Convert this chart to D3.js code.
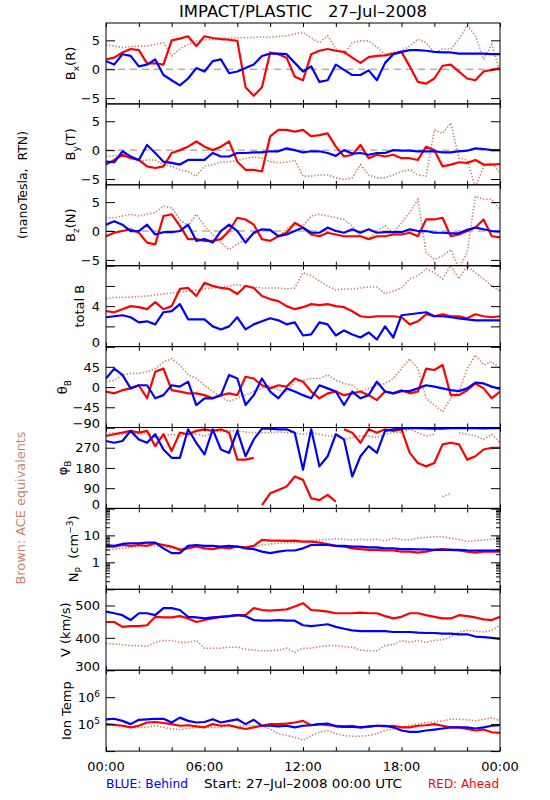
<!DOCTYPE html>
<html><head><meta charset="utf-8">
<script src="https://cdn.jsdelivr.net/npm/d3@7"></script>
<style>body{margin:0;background:#fff}svg{display:block}text{font-family:"DejaVu Sans",sans-serif;white-space:pre}</style>
</head><body><svg id="c" width="550" height="800"></svg>
<script>
// ---- sampling times (hours after 27-Jul-2008 00:00 UTC) ----
const hours=[0,0.5,1,1.5,2,2.5,3,3.5,4,4.5,5,5.5,6,6.5,7,7.5,8,8.5,9,9.5,10,10.5,11,11.5,12,12.5,13,13.5,14,14.5,15,15.5,16,16.5,17,17.5,18,18.5,19,19.5,20,20.5,21,21.5,22,22.5,23,23.5,24];
const timeTicks=[0,2,4,6,8,10,12,14,16,18,20,22,24];
const timeLabelHours=[0,6,12,18,24];
const timeLabels=["00:00","06:00","12:00","18:00","00:00"];

// ---- Bx (R) ----
const bxRed=[1.7,2,2.9,3.5,3.3,1,1,0.8,5,5.3,5.7,4,5.7,5.4,5.2,5.1,4.9,-3.1,-4.6,-3.1,2.9,2.6,2,-1.3,-1.9,2.6,3.2,3.5,3.2,3,2,1.1,2.1,2.3,2.4,2.7,3,0.5,-2.2,-2.5,-1.6,0.6,0.8,-0.4,-1.6,-1.9,-0.4,-0.1,0.2];
const bxBlue=[1.4,0.8,2.6,2.3,0.5,0.8,1.7,-1,-1.9,-2.8,-1.6,0.2,-0.4,1.4,1.7,-0.7,-0.4,0.2,0.8,2.3,2.7,2.7,2.6,1.1,-0.4,0.5,-2.2,-1.9,0.8,-0.1,-1,-1,-0.2,-1.9,1.1,2.6,3,3.3,3.3,3.2,3,2.9,2.9,2.7,2.7,2.7,2.7,2.6,2.6];
const bxBrown=[4.2,4,3.75,3.9,4,4,4.3,4.6,2.3,3.5,4.3,4.9,5.1,5.2,5.4,5.4,5.4,5.5,5.5,5.6,5.5,5.7,5.8,6.1,6.4,5.4,4.6,5.8,3.5,2.6,4.6,4.9,4.9,3.8,2.6,2.9,3.2,4,5.2,4.6,2.9,3.5,3.5,5.2,7.6,5.8,1.7,4.3,-0.4];
// ---- By (T) ----
const byRed=[-2.5,-1.7,-0.8,-1.4,-1.7,-2.8,-3.1,-2.8,-0.5,0,0.6,1.5,0.6,0,0.6,1.5,-2,-3.4,-3.4,-3.7,2.4,3.5,3.5,3.2,3.5,2.4,2.6,2.9,0.6,-1.1,-0.8,0.9,-1.4,-0.8,-1.1,-0.8,-1.4,-1.4,-1.7,0.6,0,-2.8,-2.5,-2.1,-2.2,-1.7,-2.5,-2.5,-2.4];
const byBlue=[-2,-2.1,-0.2,-1.1,-1.7,0.9,-0.5,-2,-2.2,-2.5,-1.7,-1.7,-1.7,-0.5,-1.1,-1.1,-0.5,-0.5,-0.4,-0.4,-0.2,-0.2,0.3,0,-0.4,-0.2,-0.2,-0.5,-1,0,-0.6,-0.5,-0.8,-0.5,-0.5,0,-0.1,-0.1,-0.2,-0.2,-0.2,-0.4,-0.4,-0.2,-0.1,0.3,0.2,0,0];
const byBrown=[-1.1,-1,-0.8,-1.1,-2,-1.7,-1.7,-2.5,-2.8,-3.4,-3.7,-4.5,-2.8,-2.5,-2.1,-2,-1.8,-1.4,-1.2,-1.4,-2,-2.2,-2.1,-1.7,-4.5,-4.5,-4.3,-4.3,-4.8,-5.1,-4.8,-2.5,-4.3,-4.8,-4.8,-4.3,-3.7,-3.4,-4.3,-4.5,3.5,2.9,4.7,-1.4,-1.7,-6.5,-2.8,-2.2,-4];
// ---- Bz (N) ----
const bzRed=[-0.9,-0.3,0,0.3,-0.3,-2,-2.3,2.6,2.9,0.9,-1.4,-1.4,-1.7,-1.7,-1.4,0,2.3,2,1.1,-1.4,-1.7,-0.9,-0.3,1.4,0.6,-0.6,-0.9,-0.3,-0.6,-0.9,-0.9,-0.9,-1.4,-0.9,-0.9,-0.6,-0.6,-0.3,-0.9,2,2,2.3,-0.9,-0.6,0,0.6,2,-0.9,-1.1];
const bzBlue=[1.1,1.7,1.1,0,0,1.1,-0.6,-0.2,-0.2,0,1.1,-1.7,-1.4,-2,0,1.1,0,-2,-0.3,0.3,0.2,-0.9,-0.6,0,0.6,-0.3,-0.3,0.6,0,-0.3,0.3,-0.3,0.3,-0.3,-0.2,-0.2,-0.2,0.3,0,0,-0.3,-0.3,-0.4,-0.4,0.2,0.6,0.3,0,-0.1];
const bzBrown=[2.3,2.3,2.6,2.9,2.6,2.9,3.2,4.3,4,2,0.9,2.9,0.9,-0.6,-2,-3.2,-2.3,-1.4,-0.6,0.3,0,-0.9,0.3,1.4,0.9,2.6,2.9,2.6,2.3,2,0.9,-0.9,-1.4,0,0.9,-0.3,1.4,3.2,5.5,-3.7,-4.9,-4.3,-3.2,-6.5,-3.7,6,5.5,5.5,3.7];
// ---- total B ----
const btRed=[3.5,3.4,3.7,4,3.9,3.7,4.4,3.7,4,5.7,5.8,5,6.3,6,5.8,5.7,5.2,6,5.8,5,4.7,4.5,4,3.7,3.9,4.2,4.1,4.2,4,3.9,3.5,3,2.9,3,3,3,2.9,2.2,2.5,3.2,3,3.2,3,3,2.8,3.2,3,2.9,3];
const btBlue=[2.9,3,3.1,2.9,2.4,2.5,2.2,3.4,3.5,4.2,2.7,2.7,2.7,2,1.7,2,2.9,1.7,2.2,2.5,2.8,2.6,2.2,2.4,1.1,1.2,2.4,2.2,1.1,1.6,1.2,0.9,1.4,0.7,2,0.9,3.1,3.2,3.3,3.4,3,3,2.9,2.8,2.7,2.6,2.6,2.6,2.6];
const btBrown=[4.75,4.85,4.85,4.9,4.95,5,5.1,5.2,5.3,5.4,5.5,5.6,5.7,5.8,5.9,6,6.1,6,5.9,5.8,5.8,5.8,5.7,5.8,7.3,7,6.5,6,5.6,5.7,5.7,5.8,5.9,5.9,5.2,5.5,5.8,6.7,7,7.7,7.3,6.7,8,6.7,8,7.3,6.7,6,5.5];
// ---- theta B ----
const thRed=[-10,-14,-7,-3,4,-25,34,41,-7,-10,-14,-14,-18,-25,-18,-14,-18,23,19,4,-3,4,1,19,12,-10,-25,-14,-10,-18,-14,-10,-18,-29,-10,-14,-7,-14,-10,41,38,49,-18,-18,-7,8,-3,-25,-10];
const thBlue=[19,41,27,-3,4,4,-25,-18,4,1,12,-40,-25,-25,-18,27,19,-40,-18,19,-10,-25,-3,-10,-18,-25,4,-3,-10,-40,-10,-25,-18,12,-10,-14,-9,-9,-3,4,1,-3,-7,-9,-3,10,8,1,-4];
const thBrown=[12,15,27,30,30,34,41,56,63,49,27,19,4,-10,-21,-32,-25,-18,-10,-3,4,-7,-10,12,15,19,19,27,15,8,4,-10,-3,4,8,19,41,63,41,-25,-40,-55,-25,-10,41,71,49,56,41];
// ---- phi B ----
const phRed=[322,330,337,345,337,345,277,330,255,337,330,345,352,345,352,337,217,217,225,15,67,82,97,142,127,45,37,60,30,352,337,292,352,337,352,345,352,247,202,187,202,285,292,285,217,232,262,270,270];
const phBlue=[300,292,300,345,307,292,330,262,225,225,352,292,240,352,262,247,345,232,307,355,355,352,352,337,172,352,187,232,330,307,142,232,277,247,345,352,355,357,357,356,355,355,357,357,357,357,356,357,357];
const phBrown=[330,337,330,337,330,337,315,322,330,322,337,330,322,337,345,345,345,340,337,337,337,340,337,337,330,337,330,322,322,307,315,322,322,315,330,337,337,352,337,322,330,52,67,337,330,322,307,330,292];
// ---- Np (cm^-3) ----
const npRed=[3.85,3.85,4.4,4.1,4.4,4.1,5.1,4.4,3.85,2.9,3.3,3.85,3.3,3.1,3.6,3.3,3.85,3.6,4.1,6.75,6.4,6.4,6.2,6.4,5.9,5.9,5.4,4.8,4.1,3.85,3.3,3.1,2.9,2.9,2.75,2.75,2.5,2.5,2.3,2.5,2.9,3.1,2.9,2.75,2.5,2.3,2.5,2.5,2.5];
const npBlue=[4.4,4.1,4.8,5.1,5.1,5.4,5.4,3.3,2.2,2.2,4.1,4.4,4.1,4.1,3.85,4.1,3.85,3.3,3.1,2.5,2.2,2.5,2.75,2.75,3.3,4.4,4.4,4.4,4.1,4.1,3.85,3.85,3.6,3.6,3.3,3.3,3.1,3.1,3.0,3.0,2.9,2.9,2.9,2.9,2.8,2.75,2.75,2.75,2.75];
const npBrown=[2.9,3.1,3.3,3.6,3.85,4.1,4.1,3.85,3.3,3.3,3.3,3.85,4.1,3.85,3.6,3.85,3.85,3.3,3.6,4.4,4.8,5.1,5.4,5.4,5.9,6.4,6.75,7.1,7.5,7.1,6.75,7.1,6.75,7.1,6.4,7.8,7.1,6.75,7.8,8.4,8.9,8.9,7.8,7.1,5.9,6.4,6.75,7.1,7.8];
// ---- V (km/s) ----
const vRed=[449,449,434,436,436,439,465,463,463,467,460,449,455,460,465,467,470,470,492,486,484,486,488,497,507,486,484,481,476,476,476,478,476,476,467,460,465,476,476,470,465,460,460,470,467,463,457,455,465];
const vBlue=[481,476,470,455,476,476,470,492,492,486,465,463,460,463,465,467,470,467,455,453,453,455,453,453,439,436,439,442,434,428,423,421,421,421,421,418,418,418,416,415,415,413,413,411,411,404,402,400,397];
const vBrown=[383,381,379,376,376,373,386,392,392,386,386,392,368,368,368,371,371,365,362,360,360,362,368,355,368,368,373,376,376,373,371,362,360,360,376,379,392,386,392,386,392,394,402,418,423,421,418,423,439];
// ---- Ion Temp (K) ----
const tRed=[1.00e5,0.95e5,0.87e5,0.76e5,0.87e5,1.15e5,1.2e5,1.1e5,1.0e5,0.87e5,0.91e5,0.83e5,0.76e5,1.0e5,0.87e5,0.91e5,0.76e5,0.66e5,0.76e5,0.87e5,1.0e5,1.0e5,1.05e5,1.15e5,1.32e5,0.91e5,1.0e5,0.91e5,0.87e5,0.83e5,0.87e5,0.76e5,0.79e5,0.87e5,0.83e5,0.87e5,0.76e5,0.76e5,0.87e5,0.91e5,1.0e5,0.87e5,0.76e5,0.76e5,0.66e5,0.58e5,0.63e5,0.5e5,0.47e5];
const tBlue=[1.51e5,1.58e5,1.32e5,1.0e5,1.45e5,1.51e5,1.58e5,1.58e5,1.15e5,1.74e5,1.32e5,1.15e5,1.2e5,1.51e5,1.15e5,1.32e5,1.51e5,1.0e5,1.45e5,0.87e5,0.87e5,0.83e5,0.87e5,0.76e5,0.87e5,0.91e5,1.0e5,1.05e5,0.83e5,0.79e5,0.79e5,0.76e5,0.83e5,0.87e5,0.87e5,0.76e5,0.58e5,0.52e5,0.52e5,0.58e5,0.63e5,0.69e5,0.76e5,0.76e5,0.76e5,0.69e5,0.76e5,0.87e5,0.91e5];
const tBrown=[0.87e5,0.87e5,0.83e5,0.76e5,0.76e5,0.76e5,0.87e5,0.76e5,0.66e5,0.63e5,0.69e5,0.76e5,0.76e5,0.76e5,0.76e5,0.87e5,0.83e5,0.87e5,0.87e5,0.87e5,0.66e5,0.44e5,0.38e5,0.33e5,0.25e5,0.38e5,0.5e5,0.58e5,0.44e5,0.38e5,0.355e5,0.355e5,0.38e5,0.44e5,0.58e5,0.66e5,0.76e5,0.91e5,1.0e5,1.15e5,1.2e5,1.32e5,1.51e5,1.51e5,1.45e5,1.32e5,1.51e5,1.74e5,1.32e5];

// ---- tick values / labels ----
const bTicks=[-5,0,5], bLabels=[5,0,-5];
const totTicks=[0,2,4,6,8], totLabels=[4,0];
const thTicks=[-90,-45,0,45,90], thLabels=[45,0,-45,-90];
const phTicks=[0,90,180,270,360], phLabels=[270,180,90,0];
const npTicks=[0.1,1,10,100], npMinor=[0.2,0.3,0.4,0.5,0.6,0.7,0.8,0.9,2,3,4,5,6,7,8,9,20,30,40,50,60,70,80,90], npLabels=[10,1];
const vTicks=[300,400,500], vLabels=[500,400,300];
const tTicks=[1e4,1e5,1e6,1e7], tLabels=[1e6,1e5];

const COL={red:"#ff0000",blue:"#0000ff",brown:"#c8856a"};
const svg=d3.select("#c");
const L=106,R=500,T0=23,PH=80.9;
const x=d3.scaleLinear().domain([0,24]).range([L,R]);

const fmt=v=>String(v).replace("-","\u2212");
const supFmt=v=>["10",String(Math.round(Math.log10(v)))];

const panels=[
 {red:bxRed,blue:bxBlue,brown:bxBrown,domain:[-6,8],ticks:bTicks,labels:bLabels,zero:true,tx:75,title:[["B",0],["x",1],["(R)",0]]},
 {red:byRed,blue:byBlue,brown:byBrown,domain:[-6,8],ticks:bTicks,labels:bLabels,zero:true,tx:75,title:[["B",0],["y",1],["(T)",0]]},
 {red:bzRed,blue:bzBlue,brown:bzBrown,domain:[-6,8],ticks:bTicks,labels:bLabels,zero:true,tx:75,title:[["B",0],["z",1],["(N)",0]]},
 {red:btRed,blue:btBlue,brown:btBrown,domain:[0,8],ticks:totTicks,labels:totLabels,tx:84,title:[["total B",0]]},
 {red:thRed,blue:thBlue,brown:thBrown,domain:[-90,90],ticks:thTicks,labels:thLabels,tx:67,title:[["\u03b8",0],["B",1]]},
 {red:phRed,blue:phBlue,brown:phBrown,domain:[0,360],ticks:phTicks,labels:phLabels,tx:67,wrap:180,title:[["\u03c6",0],["B",1]]},
 {red:npRed,blue:npBlue,brown:npBrown,domain:[0.1,100],log:true,ticks:npTicks,minor:npMinor,labels:npLabels,tx:78,title:[["N",0],["P",1],["  (cm",0],["\u22123",-1],[")",0]]},
 {red:vRed,blue:vBlue,brown:vBrown,domain:[300,550],ticks:vTicks,labels:vLabels,tx:70,title:[["V (km/s)",0]]},
 {red:tRed,blue:tBlue,brown:tBrown,domain:[1e4,1e7],log:true,ticks:tTicks,labels:tLabels,sup:true,tx:71,title:[["Ion Temp",0]]}
];

function segs(vals,thr){
  const out=[];let cur=[];
  vals.forEach((v,i)=>{
    if(i>0&&Math.abs(v-vals[i-1])>thr){out.push(cur);cur=[];}
    cur.push([hours[i],v]);
  });
  out.push(cur);return out;
}

const defs=svg.append("defs");
panels.forEach((p,i)=>{
  const y0=T0+i*PH, y1=y0+PH;
  const y=(p.log?d3.scaleLog():d3.scaleLinear()).domain(p.domain).range([y1,y0]);
  const g=svg.append("g");
  defs.append("clipPath").attr("id","cp"+i).append("rect")
    .attr("x",L).attr("y",y0).attr("width",R-L).attr("height",PH);
  const dg=g.append("g").attr("clip-path","url(#cp"+i+")");
  if(p.zero){
    dg.append("line").attr("x1",L).attr("x2",R).attr("y1",y(0)).attr("y2",y(0))
      .attr("stroke","#8c8c8c").attr("stroke-width",1).attr("stroke-dasharray","7,5");
  }
  const line=d3.line().x(d=>x(d[0])).y(d=>y(d[1]));
  const thr=p.wrap||Infinity;
  segs(p.brown,thr).forEach(s=>{
    dg.append("path").attr("d",line(s)).attr("fill","none").attr("stroke",COL.brown)
      .attr("stroke-width",1.6).attr("stroke-dasharray","1.4,1.8");
  });
  ["red","blue"].forEach(c=>{
    segs(p[c],thr).forEach(s=>{
      dg.append("path").attr("d",line(s)).attr("fill","none").attr("stroke",COL[c])
        .attr("stroke-width",2.2).attr("stroke-linejoin","round");
    });
  });
  // frame
  g.append("rect").attr("x",L).attr("y",y0).attr("width",R-L).attr("height",PH)
    .attr("fill","none").attr("stroke","#000").attr("stroke-width",1);
  // x ticks (inward)
  g.append("g").attr("transform",`translate(0,${y0})`).call(d3.axisTop(x).tickValues(timeTicks).tickSize(-4).tickFormat(""));
  g.append("g").attr("transform",`translate(0,${y1})`).call(d3.axisBottom(x).tickValues(timeTicks).tickSize(-4).tickFormat(""));
  // y ticks (inward) left and right
  g.append("g").attr("transform",`translate(${L},0)`).call(d3.axisLeft(y).tickValues(p.ticks).tickSize(-9).tickFormat(""));
  g.append("g").attr("transform",`translate(${R},0)`).call(d3.axisRight(y).tickValues(p.ticks).tickSize(-9).tickFormat(""));
  if(p.minor){
    g.append("g").attr("transform",`translate(${L},0)`).call(d3.axisLeft(y).tickValues(p.minor).tickSize(-4).tickFormat(""));
    g.append("g").attr("transform",`translate(${R},0)`).call(d3.axisRight(y).tickValues(p.minor).tickSize(-4).tickFormat(""));
  }
  g.selectAll(".domain").remove();
  g.selectAll(".tick line").attr("stroke","#000");
  // tick labels
  p.labels.forEach(v=>{
    const yy=Math.min(y(v),y1-4);
    const t=svg.append("text").attr("x",100).attr("y",yy).attr("dy","0.36em")
      .attr("text-anchor","end").attr("font-size",13).attr("fill","#000");
    if(p.sup){
      const [b,e]=supFmt(v);
      t.append("tspan").text(b);
      t.append("tspan").attr("dy",-5).attr("font-size",9).text(e);
    } else t.text(fmt(v));
  });
  // axis title
  const tt=svg.append("text").attr("transform",`translate(${p.tx},${(y0+y1)/2}) rotate(-90)`)
    .attr("text-anchor","middle").attr("font-size",13).attr("fill","#000");
  let shift=0;
  p.title.forEach(([s,k])=>{
    const sp=tt.append("tspan").text(s);
    const target=k===1?4:(k===-1?-5:0);
    if(target!==shift){sp.attr("dy",target-shift);shift=target;}
    if(k!==0) sp.attr("font-size",9);
  });
});

// bottom time labels
const yb=T0+9*PH;
timeLabelHours.forEach((h,i)=>{
  svg.append("text").attr("x",x(h)).attr("y",yb+20).attr("text-anchor","middle")
    .attr("font-size",13).text(timeLabels[i]);
});
// title
svg.append("text").attr("x",(L+R)/2).attr("y",17).attr("text-anchor","middle")
  .attr("font-size",16.5).attr("textLength",248).attr("lengthAdjust","spacingAndGlyphs")
  .text("IMPACT/PLASTIC   27\u2013Jul\u20132008");
// footer
svg.append("text").attr("x",L).attr("y",788).attr("font-size",13).attr("fill",COL.blue)
  .attr("textLength",82).attr("lengthAdjust","spacingAndGlyphs").text("BLUE: Behind");
svg.append("text").attr("x",303).attr("y",788).attr("text-anchor","middle").attr("font-size",13)
  .attr("textLength",198).attr("lengthAdjust","spacingAndGlyphs").text("Start: 27\u2013Jul\u20132008 00:00 UTC");
svg.append("text").attr("x",499).attr("y",788).attr("text-anchor","end").attr("font-size",13).attr("fill",COL.red)
  .attr("textLength",71).attr("lengthAdjust","spacingAndGlyphs").text("RED: Ahead");
// side labels
svg.append("text").attr("transform","translate(27,185) rotate(-90)").attr("text-anchor","middle")
  .attr("font-size",13).attr("textLength",108).attr("lengthAdjust","spacingAndGlyphs").text("(nanoTesla,  RTN)");
svg.append("text").attr("transform","translate(25,508) rotate(-90)").attr("text-anchor","middle")
  .attr("font-size",13).attr("fill",COL.brown).attr("textLength",153).attr("lengthAdjust","spacingAndGlyphs")
  .text("Brown: ACE equivalents");
</script></body></html>
